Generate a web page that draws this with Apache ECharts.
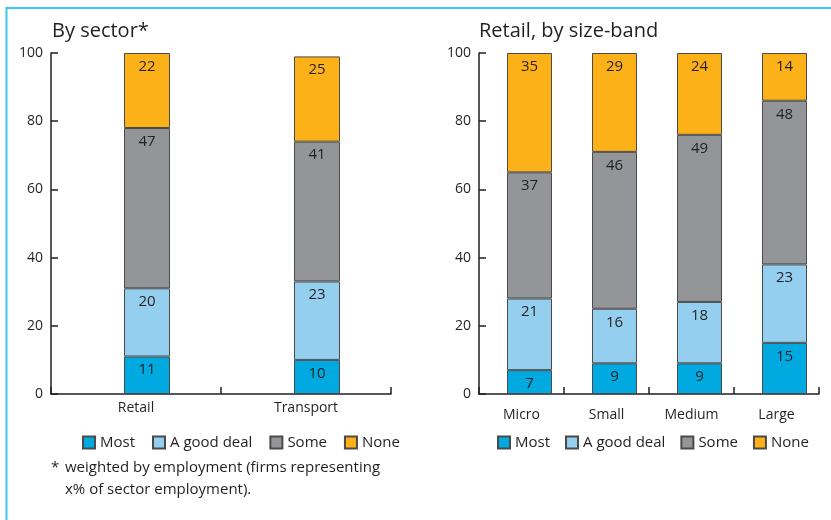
<!DOCTYPE html>
<html>
<head>
<meta charset="utf-8">
<script src="https://cdn.jsdelivr.net/npm/echarts@6/dist/echarts.min.js"></script>
<style>html,body{margin:0;padding:0;background:#fff;}#c{width:831px;height:520px;}</style>
</head>
<body>
<div id="c"></div>
<script>
// ---- data ----
const seriesNames = ['Most', 'A good deal', 'Some', 'None'];
const sectorCategories = ['Retail', 'Transport'];
const sectorMost = [11, 10];
const sectorGoodDeal = [20, 23];
const sectorSome = [47, 41];
const sectorNone = [22, 25];
const sizeCategories = ['Micro', 'Small', 'Medium', 'Large'];
const sizeMost = [7, 9, 9, 15];
const sizeGoodDeal = [21, 16, 18, 23];
const sizeSome = [37, 46, 49, 48];
const sizeNone = [35, 29, 24, 14];
const yTicks = [0, 20, 40, 60, 80, 100];
const leftTitle = 'By sector*';
const rightTitle = 'Retail, by size-band';
const footnote1 = 'weighted by employment (firms representing';
const footnote2 = 'x% of sector employment).';

// ---- styling ----
const colors = ['#00a9e0', '#95cff0', '#939598', '#fdb118'];
const ink = '#231f20';
const font = '"Open Sans", "Noto Sans", sans-serif';

const chart = echarts.init(document.getElementById('c'), null, {renderer: 'canvas'});

function makeSeries(vals, name, idx, axisIdx, stack, bw) {
  return {
    type: 'bar', name: name, stack: stack,
    xAxisIndex: axisIdx, yAxisIndex: axisIdx,
    data: vals, barWidth: bw, barGap: '0%',
    itemStyle: {color: colors[idx], borderColor: '#4a4a4a', borderWidth: 1},
    label: {show: true, position: 'insideTop', distance: 6, color: ink,
      fontFamily: font, fontSize: 15},
    emphasis: {disabled: true},
    silent: true
  };
}
function pad(axisIdx, bw) {
  return {type: 'bar', name: 'pad', stack: 'pad' + axisIdx, xAxisIndex: axisIdx, yAxisIndex: axisIdx,
    data: [], barWidth: bw, barGap: '0%', silent: true};
}

const yAxisBase = (gi) => ({
  type: 'value', gridIndex: gi, min: 0, max: 100, interval: 20,
  axisLine: {show: true, lineStyle: {color: ink, width: 1.5}},
  axisTick: {show: true, inside: true, length: 7, lineStyle: {color: ink, width: 1.5}},
  axisLabel: {color: ink, fontFamily: font, fontSize: 14, margin: 8,
    formatter: v => yTicks.includes(v) ? String(v) : ''},
  splitLine: {show: false}
});
const xAxisBase = (gi, cats, margin) => ({
  type: 'category', gridIndex: gi, data: cats,
  axisLine: {show: true, lineStyle: {color: ink, width: 1.5}},
  axisTick: {show: true, inside: true, length: 7, lineStyle: {color: ink, width: 1.5}},
  axisLabel: {color: ink, fontFamily: font, fontSize: 14, margin: margin}
});

const legendBase = (left, gap) => ({
  data: seriesNames, left: left, top: 430, itemWidth: 12, itemHeight: 12,
  itemGap: gap, icon: 'rect', selectedMode: false,
  textStyle: {color: ink, fontFamily: font, fontSize: 15, padding: [0, 0, 0, 0]}
});

const option = {
  animation: false,
  backgroundColor: '#fff',
  grid: [
    {left: 51, right: 440, top: 53, bottom: 126},
    {left: 479, right: 12, top: 53, bottom: 126}
  ],
  xAxis: [xAxisBase(0, sectorCategories, 7), xAxisBase(1, sizeCategories, 14)],
  yAxis: [yAxisBase(0), yAxisBase(1)],
  legend: [legendBase(77, 17), legendBase(492, 15)],
  series: [
    pad(0, 22),
    makeSeries(sectorMost, seriesNames[0], 0, 0, 'a', 46),
    makeSeries(sectorGoodDeal, seriesNames[1], 1, 0, 'a', 46),
    makeSeries(sectorSome, seriesNames[2], 2, 0, 'a', 46),
    makeSeries(sectorNone, seriesNames[3], 3, 0, 'a', 46),
    pad(1, 16),
    makeSeries(sizeMost, seriesNames[0], 0, 1, 'b', 45),
    makeSeries(sizeGoodDeal, seriesNames[1], 1, 1, 'b', 45),
    makeSeries(sizeSome, seriesNames[2], 2, 1, 'b', 45),
    makeSeries(sizeNone, seriesNames[3], 3, 1, 'b', 45)
  ],
  graphic: [
    {type: 'polyline', shape: {points: [[6.5, 520], [6.5, 8], [831, 8]]},
      style: {stroke: '#3cc8f2', lineWidth: 2, fill: null}, silent: true},
    {type: 'text', left: 52, top: 21, style: {text: leftTitle, fill: ink, font: '20px ' + font}},
    {type: 'text', left: 479, top: 21, style: {text: rightTitle, fill: ink, font: '20px ' + font}},
    {type: 'text', left: 51, top: 460, style: {text: '*', fill: ink, font: '15px ' + font}},
    {type: 'text', left: 65, top: 460, style: {text: footnote1, fill: ink, font: '15px ' + font}},
    {type: 'text', left: 65, top: 482, style: {text: footnote2, fill: ink, font: '15px ' + font}}
  ]
};
chart.setOption(option);
</script>
</body>
</html>
